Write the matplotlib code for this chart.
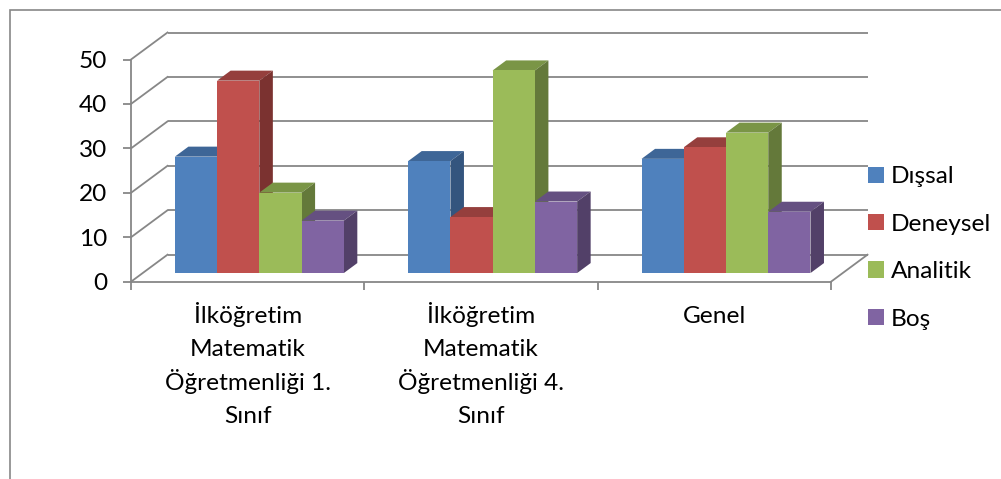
import matplotlib
matplotlib.use("Agg")
import matplotlib.pyplot as plt
from matplotlib.patches import Polygon, Patch, Rectangle

plt.rcParams['font.family'] = ['Lato', 'DejaVu Sans']

categories = ["İlköğretim\nMatematik\nÖğretmenliği 1.\nSınıf",
              "İlköğretim\nMatematik\nÖğretmenliği 4.\nSınıf",
              "Genel"]
series_names = ["Dışsal", "Deneysel", "Analitik", "Boş"]
disal = [26.2, 25.2, 25.7]
deneysel = [43.3, 12.6, 28.3]
analitik = [18.1, 45.6, 31.6]
bos = [11.8, 16.1, 13.8]
y_ticks = [0, 10, 20, 30, 40, 50]

series_values = [disal, deneysel, analitik, bos]
front_colors = ["#4F81BD", "#C0504D", "#9BBB59", "#8064A2"]
top_colors = ["#3E6697", "#953F3D", "#7A9546", "#655081"]
side_colors = ["#34557E", "#7B3230", "#64793A", "#524068"]
grid_color = "#878787"
FS = 17.6

W, H = 1001, 479
fig = plt.figure(figsize=(W / 100, H / 100), dpi=100)
ax_h = 222.2
ax = fig.add_axes([131 / W, (H - 281.7) / H, 700 / W, ax_h / H])
ax.set_xlim(0, 3)
ax.set_ylim(0, 50)

# oblique depth vector of the 3-D box (data units)
ddx, ddy = 36.5 / (700 / 3), 27.0 / (ax_h / 50)
d0, d1 = 0.32, 0.69          # front / back depth of the columns
bar_w = 0.181

# back wall and left wall gridlines
for v in y_ticks:
    ax.plot([ddx, 3 + ddx], [v + ddy, v + ddy], color=grid_color, lw=1.3,
            clip_on=False, zorder=1, solid_capstyle='butt')
    ax.plot([0, ddx], [v, v + ddy], color=grid_color, lw=1.3,
            clip_on=False, zorder=1)
# right floor edge
ax.plot([3, 3 + ddx], [0, ddy], color=grid_color, lw=1.3, clip_on=False, zorder=1)

# columns: front face, top face, right side face
z = 2
for i in range(len(categories)):
    for k, vals in enumerate(series_values):
        v = vals[i]
        x0 = i + 0.5 + (k - 2) * bar_w
        xf = x0 + d0 * ddx
        yb = d0 * ddy
        ax.bar(xf, v, width=bar_w, bottom=yb, align='edge',
               color=front_colors[k], linewidth=0, zorder=z + 0.2)
        top = [(xf, v + yb), (xf + bar_w, v + yb),
               (x0 + bar_w + d1 * ddx, v + d1 * ddy), (x0 + d1 * ddx, v + d1 * ddy)]
        side = [(xf + bar_w, yb), (x0 + bar_w + d1 * ddx, d1 * ddy),
                (x0 + bar_w + d1 * ddx, v + d1 * ddy), (xf + bar_w, v + yb)]
        ax.add_patch(Polygon(top, closed=True, facecolor=top_colors[k],
                             edgecolor='none', zorder=z, clip_on=False))
        ax.add_patch(Polygon(side, closed=True, facecolor=side_colors[k],
                             edgecolor='none', zorder=z, clip_on=False))
        z += 1

# axes styling
for s in ["top", "right"]:
    ax.spines[s].set_visible(False)
for s in ["left", "bottom"]:
    ax.spines[s].set_color(grid_color)
    ax.spines[s].set_linewidth(1.3)
ax.set_facecolor('none')

ax.set_yticks(y_ticks)
ax.set_yticklabels([str(t) for t in y_ticks])
ax.tick_params(axis='y', direction='out', length=6, width=1.3, color=grid_color,
               labelsize=FS, pad=11, labelcolor='black')

ax.set_xticks([0, 1, 2, 3])
ax.set_xticklabels([])
ax.tick_params(axis='x', which='major', direction='out', length=5.5, width=1.3,
               color=grid_color)

# category labels, one text per line with even baseline spacing
first_baseline, line_step = 323.3, 33.1
xtrans = ax.get_xaxis_transform()
for i, label in enumerate(categories):
    for j, line in enumerate(label.split("\n")):
        b = first_baseline + j * line_step
        ax.text(i + 0.5, (281.7 - b) / ax_h, line, transform=xtrans,
                ha='center', va='baseline', fontsize=FS, color='black',
                clip_on=False)

handles = [Patch(facecolor=c, edgecolor='none') for c in front_colors]
ax.legend(handles, series_names, loc='center left',
          bbox_to_anchor=(868 / W, 1 - 248 / H), bbox_transform=fig.transFigure,
          frameon=False, fontsize=FS, handlelength=0.65, handleheight=0.65,
          handletextpad=0.3, labelspacing=1.08, borderpad=0, borderaxespad=0)

# outer chart border
fig.patches.append(Rectangle((9.5 / W, -0.2), 1.2, 1.2 - 9.5 / H,
                             transform=fig.transFigure, fill=False,
                             edgecolor=grid_color, linewidth=1.2))

fig.savefig("out.png", dpi=100)
